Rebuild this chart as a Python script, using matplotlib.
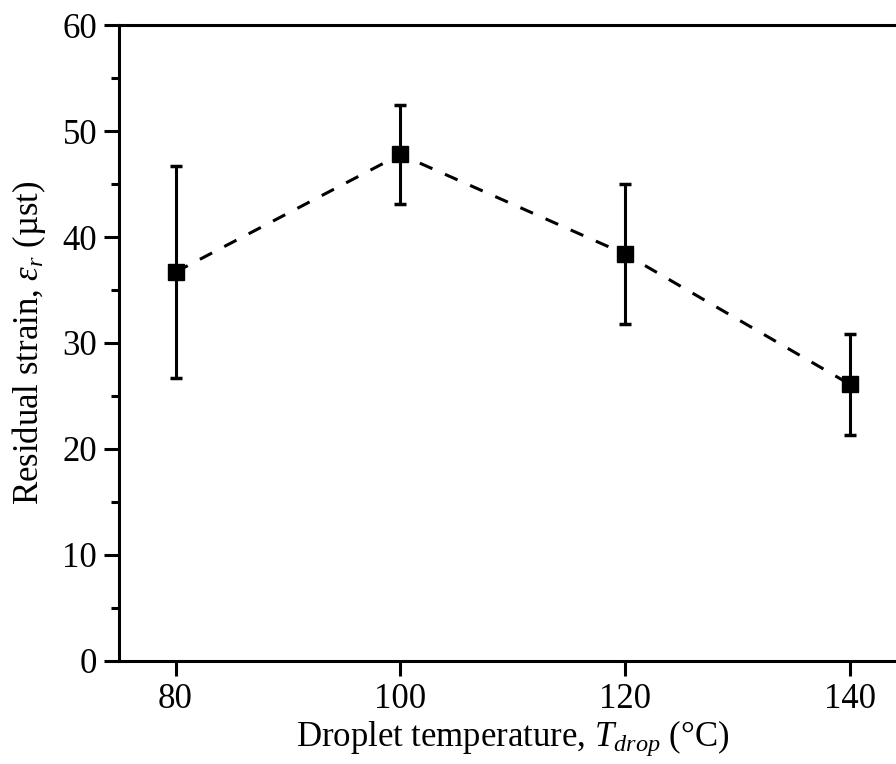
import matplotlib

matplotlib.use("Agg")
import matplotlib.pyplot as plt

temperatures = [80, 100, 120, 140]
strain_mean = [36.7, 47.8, 38.4, 26.1]
strain_err = [10.0, 4.65, 6.65, 4.75]

x_ticks = [80, 100, 120, 140]
y_ticks = [0, 10, 20, 30, 40, 50, 60]

plt.rcParams["font.family"] = ["Liberation Serif", "DejaVu Serif"]
plt.rcParams["mathtext.fontset"] = "custom"
plt.rcParams["mathtext.rm"] = "Liberation Serif"
plt.rcParams["mathtext.it"] = "Liberation Serif:italic"
plt.rcParams["mathtext.bf"] = "Liberation Serif:bold"

fig = plt.figure(figsize=(8.96, 7.64), dpi=100)
ax = fig.add_axes([0.1332, 0.1352, 0.878, 0.8317])

ax.plot(temperatures, strain_mean, color="black", linewidth=2.2,
        linestyle=(0, (4.5, 4.5)), zorder=2)
ax.errorbar(temperatures, strain_mean, yerr=strain_err, fmt="s", color="black",
            markersize=11.5, elinewidth=2.2, capsize=4, capthick=2.5, zorder=3)

ax.set_xlim(75, 145)
ax.set_ylim(0, 60)
ax.set_xticks(x_ticks)
ax.set_yticks(y_ticks)
ax.set_yticks([5, 15, 25, 35, 45, 55], minor=True)

for side in ["left", "bottom", "top", "right"]:
    ax.spines[side].set_linewidth(2.2)
ax.tick_params(axis="both", which="major", direction="out", length=11, width=2.2,
               labelsize=25, pad=5)
ax.tick_params(axis="y", which="minor", direction="out", length=5.5, width=2.2)

ax.set_xlabel("Droplet temperature, $T_{drop}$ (°C)", fontsize=25, labelpad=2)
ax.set_ylabel("Residual strain, $\\varepsilon_r$ (µst)", fontsize=25, labelpad=10)

fig.savefig("out.png", dpi=100)
